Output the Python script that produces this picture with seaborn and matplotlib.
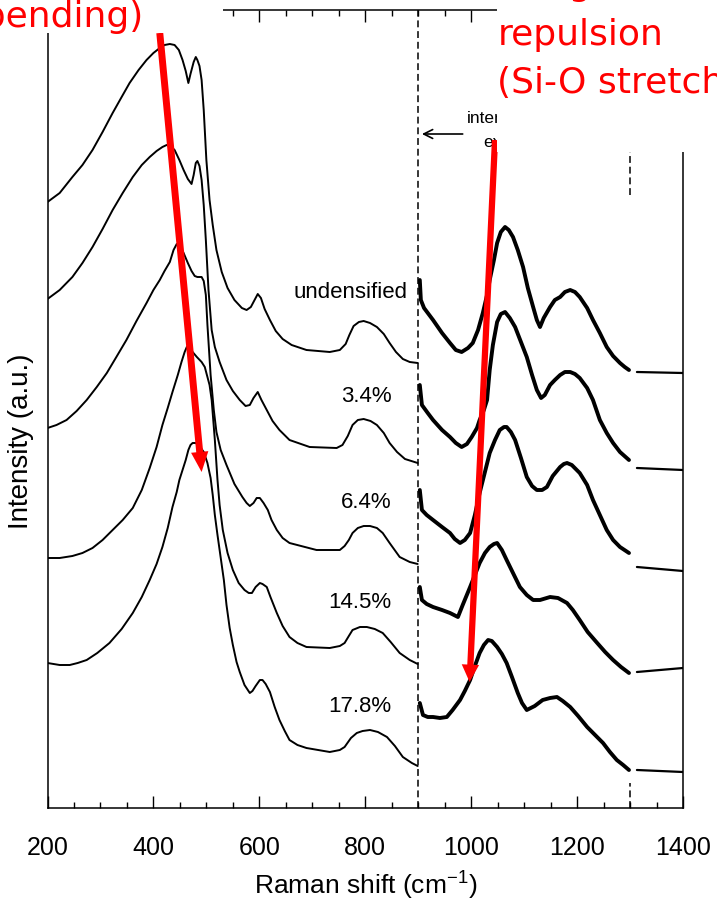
import pandas as pd
import seaborn as sns
import matplotlib.pyplot as plt
from matplotlib.patches import Rectangle
from matplotlib.ticker import MultipleLocator

samples = ["undensified", "3.4%", "6.4%", "14.5%", "17.8%"]

# 200-900 cm-1 part, stacked intensities (a.u.)
low_wn_0 = [200, 223, 247, 266, 285, 304, 323, 340, 355, 372, 387, 400, 412, 421, 431, 440, 448, 455,
            461, 466, 470, 476, 480, 483, 487, 491, 495, 500, 506, 512, 519, 529, 540, 553, 567, 576,
            584, 591, 597, 603, 610, 620, 631, 644, 661, 689, 733, 752, 763, 770, 778, 788, 797, 809,
            822, 835, 846, 858, 871, 884, 899]
low_i_0 = [606, 615, 631, 643, 658, 676, 695, 711, 725, 738, 748, 755, 760, 763, 764, 763, 758, 748,
           737, 725, 734, 746, 751, 748, 742, 728, 698, 648, 608, 583, 558, 536, 520, 508, 500, 498,
           501, 508, 514, 510, 499, 488, 477, 469, 463, 458, 456, 458, 464, 473, 482, 486, 487, 485,
           481, 474, 465, 456, 449, 446, 445]

low_wn_1 = [200, 223, 247, 266, 285, 304, 323, 342, 361, 378, 393, 406, 417, 425, 432, 440, 449, 457,
            465, 472, 476, 480, 483, 487, 491, 495, 499, 504, 510, 516, 525, 538, 550, 563, 574, 582,
            589, 597, 604, 614, 625, 638, 657, 695, 746, 757, 767, 776, 786, 797, 810, 822, 835, 846,
            860, 875, 899]
low_i_1 = [509, 518, 531, 545, 561, 579, 598, 615, 631, 643, 651, 657, 661, 663, 662, 658, 648, 638,
           629, 624, 633, 645, 647, 642, 628, 603, 568, 518, 478, 461, 446, 428, 417, 408, 402, 403,
           410, 416, 408, 398, 387, 378, 368, 361, 360, 363, 372, 383, 388, 389, 387, 383, 375, 365,
           356, 349, 345]

low_wn_2 = [200, 217, 236, 255, 274, 293, 312, 330, 349, 368, 387, 400, 412, 421, 431, 438, 444, 449,
            457, 465, 472, 478, 483, 491, 495, 499, 502, 508, 514, 519, 527, 538, 553, 568, 576, 582,
            589, 595, 601, 608, 616, 623, 633, 644, 657, 708, 752, 761, 769, 776, 786, 797, 809, 822,
            833, 846, 865, 884, 899]
low_i_2 = [380, 383, 388, 397, 408, 421, 435, 451, 468, 487, 505, 518, 528, 537, 546, 558, 564, 563,
           555, 545, 537, 532, 531, 531, 527, 513, 483, 433, 398, 376, 358, 343, 324, 311, 305, 302,
           305, 310, 310, 305, 298, 288, 278, 270, 265, 258, 258, 262, 268, 275, 280, 282, 282, 280,
           275, 265, 251, 246, 244]

low_wn_3 = [200, 223, 247, 266, 285, 304, 323, 342, 361, 378, 393, 406, 417, 427, 436, 446, 453, 459,
            463, 468, 474, 482, 491, 497, 500, 506, 510, 516, 521, 525, 531, 540, 550, 561, 572, 580,
            586, 593, 601, 606, 614, 621, 633, 644, 657, 672, 689, 733, 752, 761, 769, 776, 790, 803,
            818, 833, 848, 865, 884, 899]
low_i_3 = [250, 250, 252, 255, 260, 268, 278, 288, 300, 318, 340, 361, 383, 400, 416, 433, 446, 456,
           461, 460, 456, 451, 446, 441, 435, 423, 408, 368, 328, 303, 278, 255, 238, 225, 218, 215,
           215, 221, 225, 224, 221, 211, 195, 182, 171, 165, 161, 160, 162, 165, 172, 178, 181, 181,
           179, 175, 166, 155, 148, 144]

low_wn_4 = [200, 223, 242, 257, 274, 294, 317, 340, 361, 378, 393, 406, 417, 427, 436, 444, 449, 455,
            461, 466, 470, 474, 480, 487, 495, 502, 508, 512, 516, 521, 525, 533, 538, 544, 550, 557,
            563, 572, 582, 587, 593, 601, 606, 612, 620, 629, 638, 648, 657, 672, 689, 733, 752, 761,
            773, 784, 795, 809, 824, 841, 856, 871, 888, 899]
low_i_4 = [145, 143, 143, 145, 148, 155, 165, 179, 195, 211, 228, 244, 261, 280, 301, 316, 328, 338,
           348, 358, 363, 365, 365, 362, 356, 345, 330, 313, 293, 273, 258, 228, 203, 180, 163, 146,
           136, 123, 115, 117, 122, 128, 128, 124, 116, 101, 88, 77, 68, 63, 60, 56, 58, 61,
           70, 75, 77, 78, 76, 71, 62, 51, 45, 42]

# 900-1300 cm-1 part (expanded, noisy)
high_wn_0 = [903, 905, 911, 928, 945, 960, 971, 982, 994, 1003, 1013, 1022, 1030, 1035, 1043, 1049,
             1056, 1064, 1071, 1079, 1088, 1098, 1107, 1117, 1124, 1130, 1137, 1149, 1158, 1168, 1177,
             1187, 1196, 1205, 1219, 1230, 1243, 1256, 1268, 1281, 1290, 1298]
high_i_0 = [528, 508, 500, 488, 475, 465, 458, 456, 460, 465, 478, 495, 513, 528, 548, 565,
            576, 581, 578, 571, 558, 541, 520, 501, 488, 481, 490, 501, 508, 511, 516,
            518, 516, 511, 500, 488, 475, 461, 452, 445, 441, 438]

high_wn_1 = [903, 907, 918, 928, 945, 960, 971, 982, 992, 1001, 1011, 1016, 1024, 1030, 1035, 1041,
             1049, 1056, 1064, 1073, 1083, 1094, 1105, 1115, 1124, 1132, 1139, 1149, 1158, 1168, 1177,
             1187, 1196, 1205, 1219, 1230, 1243, 1256, 1268, 1281, 1298]
high_i_1 = [423, 403, 395, 388, 378, 371, 365, 361, 364, 371, 380, 388, 398, 408, 438, 463,
            486, 494, 496, 490, 481, 466, 451, 433, 418, 410, 413, 423, 428, 433, 436,
            436, 434, 430, 420, 408, 388, 375, 365, 356, 348]

high_wn_2 = [903, 907, 916, 928, 945, 960, 969, 979, 988, 998, 1007, 1016, 1026, 1035, 1045, 1054,
             1062, 1067, 1075, 1083, 1094, 1105, 1115, 1124, 1134, 1143, 1154, 1168, 1175, 1181, 1190,
             1205, 1219, 1230, 1243, 1256, 1268, 1281, 1298]
high_i_2 = [318, 298, 293, 288, 281, 275, 269, 265, 268, 275, 293, 315, 336, 355, 368, 378,
            381, 381, 376, 368, 350, 331, 322, 318, 318, 321, 332, 341, 344, 345, 343,
            335, 323, 308, 293, 278, 268, 261, 255]

high_wn_3 = [903, 907, 916, 928, 945, 960, 975, 984, 998, 1007, 1016, 1026, 1035, 1043, 1049, 1058,
             1067, 1079, 1092, 1105, 1117, 1130, 1149, 1164, 1181, 1192, 1205, 1220, 1238, 1253, 1268,
             1283, 1298]
high_i_3 = [221, 208, 204, 201, 198, 195, 191, 203, 221, 233, 245, 255, 261, 264, 265, 258,
            248, 235, 221, 213, 208, 208, 211, 210, 205, 198, 188, 176, 165, 156, 148,
            141, 135]

high_wn_4 = [903, 909, 918, 928, 941, 954, 965, 979, 988, 998, 1007, 1016, 1024, 1032, 1039, 1049,
             1058, 1067, 1077, 1088, 1096, 1105, 1120, 1135, 1149, 1162, 1173, 1187, 1202, 1219, 1234,
             1249, 1262, 1275, 1287, 1298]
high_i_4 = [105, 93, 91, 91, 90, 91, 98, 108, 117, 128, 142, 155, 163, 168, 167, 161,
            154, 145, 131, 115, 105, 98, 102, 108, 110, 111, 107, 101, 92, 81, 73,
            65, 56, 48, 43, 38]

# baseline beyond 1300 cm-1
flat_wn = [1313, 1400]
flat_i_0 = [436, 435]
flat_i_1 = [340, 338]
flat_i_2 = [241, 237]
flat_i_3 = [136, 140]
flat_i_4 = [38, 36]

label_wn = [880, 850, 850, 850, 850]
label_int = [516, 411, 305, 206, 101]

bend_arrow = [(412, 775), (491, 336)]
stretch_arrow = [(1045, 668), (997, 126)]
window_arrow = [(984, 674), (907, 674)]

low = [(low_wn_0, low_i_0), (low_wn_1, low_i_1), (low_wn_2, low_i_2), (low_wn_3, low_i_3), (low_wn_4, low_i_4)]
high = [(high_wn_0, high_i_0), (high_wn_1, high_i_1), (high_wn_2, high_i_2), (high_wn_3, high_i_3),
        (high_wn_4, high_i_4)]
flat = [(flat_wn, flat_i_0), (flat_wn, flat_i_1), (flat_wn, flat_i_2), (flat_wn, flat_i_3), (flat_wn, flat_i_4)]

rows = []
for part, segs in [("low", low), ("high", high), ("flat", flat)]:
    for name, (wn, it) in zip(samples, segs):
        for w, i in zip(wn, it):
            rows.append({"sample": name, "part": part, "wn": w, "intensity": i})
df = pd.DataFrame(rows)

sns.set_style("ticks")
plt.rcParams["font.family"] = ["Liberation Sans", "DejaVu Sans"]
plt.rcParams["mathtext.fontset"] = "custom"
plt.rcParams["mathtext.rm"] = "Liberation Sans"
plt.rcParams["text.color"] = "black"
plt.rcParams["axes.labelcolor"] = "black"
plt.rcParams["xtick.color"] = "black"

fig = plt.figure(figsize=(7.17, 9.0), dpi=100)
ax = fig.add_axes([47.5 / 717, 92 / 900, 635.5 / 717, 798 / 900])

widths = {"low": 1.4, "high": 2.8, "flat": 1.6}
for part, lw in widths.items():
    sns.lineplot(data=df[df["part"] == part], x="wn", y="intensity", units="sample",
                 estimator=None, sort=False, color="black", linewidth=lw, ax=ax, legend=False)

ax.set_xlim(200, 1400)
ax.set_ylim(0, 798)
ax.set_yticks([])
ax.set_xticks(range(200, 1401, 200))
ax.xaxis.set_minor_locator(MultipleLocator(50))
ax.tick_params(axis="x", which="both", direction="in", top=True, bottom=True, width=1.0,
               labelsize=18, pad=20, colors="black")
ax.tick_params(axis="x", which="major", length=8.5)
ax.tick_params(axis="x", which="minor", length=4.3)
for s in ax.spines.values():
    s.set_linewidth(1.1)
    s.set_color("black")

ax.set_xlabel("Raman shift (cm$^{-1}$)", fontsize=19, labelpad=6, color="black")
ax.set_ylabel("Intensity (a.u.)", fontsize=20, color="black")
ax.yaxis.set_label_coords(-0.022, 0.46)

# dashed window markers
ax.axvline(900, color="black", lw=1.1, ls=(0, (4.5, 2.5)))
ax.axvline(1300, ymin=0.768, ymax=1.0, color="black", lw=1.1, ls=(0, (4.5, 2.5)))
ax.axvline(1300, ymin=0.0, ymax=0.031, color="black", lw=1.1, ls=(0, (4.5, 2.5)))

for name, x, y in zip(samples, label_wn, label_int):
    ax.text(x, y, name, ha="right", va="center", fontsize=16, color="black")

ax.annotate("", xy=window_arrow[1], xytext=window_arrow[0],
            arrowprops=dict(arrowstyle="->", color="black", lw=1.2, mutation_scale=16,
                            shrinkA=0, shrinkB=0))
ax.text(992, 685, "intensity", ha="left", va="baseline", fontsize=12.5, color="black")
ax.text(1022, 661, "expanded", ha="left", va="baseline", fontsize=12.5, color="black")

for (start, tip), hl, hw, tw in [(bend_arrow, 1.45, 1.25, 0.5), (stretch_arrow, 1.25, 1.25, 0.45)]:
    ax.annotate("", xy=tip, xytext=start,
                arrowprops=dict(arrowstyle=f"simple,head_length={hl},head_width={hw},tail_width={tw}",
                                fc="#ff0000", ec="none", mutation_scale=10, shrinkA=0, shrinkB=0))

# white text boxes of the slide over the chart
fig.add_artist(Rectangle((0, 1 - 33 / 900), 223 / 717, 33 / 900, transform=fig.transFigure,
                         fc="white", ec="none", zorder=5))
fig.add_artist(Rectangle((497 / 717, 1 - 152 / 900), 220 / 717, 152 / 900, transform=fig.transFigure,
                         fc="white", ec="none", zorder=5))

red = dict(color="#ff0000", fontsize=26, family="DejaVu Sans", va="baseline", zorder=6)
fig.text(143 / 717, 1 - 27 / 900, "(Si-O-Si bending)", ha="right", **red)
fig.text(505 / 717, 1 + 5 / 900, "Long", ha="left", **red)
fig.text(498 / 717, 1 - 45 / 900, "repulsion", ha="left", **red)
fig.text(497 / 717, 1 - 93 / 900, "(Si-O stretch)", ha="left", **red)

fig.savefig("out.png", dpi=100)
